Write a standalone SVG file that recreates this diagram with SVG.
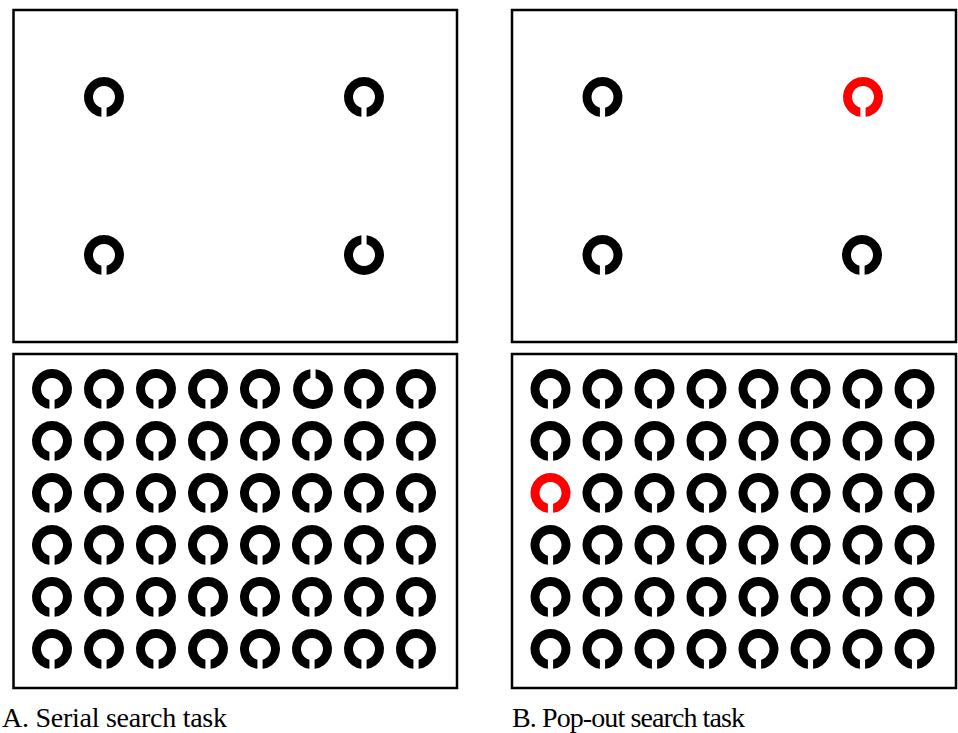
<svg xmlns="http://www.w3.org/2000/svg" xmlns:xlink="http://www.w3.org/1999/xlink" width="958" height="733" viewBox="0 0 958 733">
<defs>
<style>
.box{fill:#fff;stroke:#000;stroke-width:2.5}
.k{fill:#000}
.r{fill:#ff0000}
</style>
<path id="c" d="M2.6 19.83A20 20 0 1 0 -2.6 19.83L-2.6 10.69A11 11 0 1 1 2.6 10.69Z"/>
<g id="row">
<use href="#c" x="0"/><use href="#c" x="52"/><use href="#c" x="104"/><use href="#c" x="156"/>
<use href="#c" x="208"/><use href="#c" x="260"/><use href="#c" x="312"/><use href="#c" x="364"/>
</g>
</defs>
<rect width="958" height="733" fill="#fff"/>
<g id="panelA-top">
<rect class="box" x="13.5" y="10" width="443.5" height="332"/>
<g class="k">
<use href="#c" transform="translate(104,97)"/>
<use href="#c" transform="translate(364,97)"/>
<use href="#c" transform="translate(104,255)"/>
<use href="#c" transform="translate(364,255) rotate(180)"/>
</g>
</g>
<g id="panelA-bottom">
<rect class="box" x="13.5" y="354" width="443.5" height="334"/>
<g class="k">
<use href="#c" transform="translate(52,389)"/><use href="#c" transform="translate(104,389)"/><use href="#c" transform="translate(156,389)"/><use href="#c" transform="translate(208,389)"/><use href="#c" transform="translate(260,389)"/><use href="#c" transform="translate(313,389) rotate(180)"/><use href="#c" transform="translate(364,389)"/><use href="#c" transform="translate(416,389)"/>
<use href="#row" transform="translate(52,441)"/>
<use href="#row" transform="translate(52,493)"/>
<use href="#row" transform="translate(52,545)"/>
<use href="#row" transform="translate(52,597)"/>
<use href="#row" transform="translate(52,649)"/>
</g>
</g>
<g id="panelB-top">
<rect class="box" x="512" y="10" width="444" height="332"/>
<use class="k" href="#c" transform="translate(602.5,97)"/>
<use class="r" href="#c" transform="translate(863,97)"/>
<use class="k" href="#c" transform="translate(602.5,255)"/>
<use class="k" href="#c" transform="translate(862,255)"/>
</g>
<g id="panelB-bottom">
<rect class="box" x="512" y="354" width="444" height="334"/>
<g class="k">
<use href="#row" transform="translate(550.5,389)"/>
<use href="#row" transform="translate(550.5,441)"/>
<use href="#c" transform="translate(602.5,493)"/><use href="#c" transform="translate(654.5,493)"/><use href="#c" transform="translate(706.5,493)"/><use href="#c" transform="translate(758.5,493)"/><use href="#c" transform="translate(810.5,493)"/><use href="#c" transform="translate(862.5,493)"/><use href="#c" transform="translate(914.5,493)"/>
<use href="#row" transform="translate(550.5,545)"/>
<use href="#row" transform="translate(550.5,597)"/>
<use href="#row" transform="translate(550.5,649)"/>
</g>
<use class="r" href="#c" transform="translate(550.5,493)"/>
</g>
<g id="labels" font-family="'Liberation Serif', 'DejaVu Serif', serif" font-size="28" fill="#000">
<text x="2" y="727" textLength="225" lengthAdjust="spacing">A. Serial search task</text>
<text x="512" y="727" textLength="233" lengthAdjust="spacing">B. Pop-out search task</text>
</g>
</svg>
